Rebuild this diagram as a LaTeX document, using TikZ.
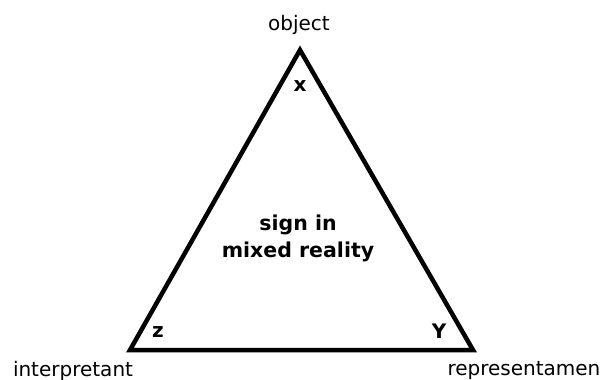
\documentclass[tikz,border=0pt]{standalone}
\usepackage{fontspec}
\setmainfont{DejaVu Sans}
\usepackage{tikz}
\usetikzlibrary{calc,positioning}

\tikzset{
    corner/.style={inner sep=0pt,anchor=base,font=\fontsize{20}{24}\selectfont},
    angle/.style={inner sep=0pt,anchor=base,font=\bfseries\fontsize{20}{22}\selectfont}
}

\begin{document}
\begin{tikzpicture}[x=1pt,y=-1pt,line join=miter]
    \useasboundingbox (0,0) rectangle (608,380);
    \coordinate (O) at (300,50);
    \coordinate (I) at (130,350);
    \coordinate (R) at (473,350);
    \draw [line width=4.5pt] (O) -- (I) -- (R) -- cycle;
    \node [corner] (object) at (299,30) {object};
    \node [corner] (interp) at (73,376) {interpretant};
    \node [corner] (repr) at (524,375) {representamen};
    \node [angle] (x) at (300,91) {x};
    \node [angle] (z) at (158,337) {z};
    \node [angle] (y) at (439,338) {Y};
    \node [font=\bfseries\fontsize{20.5}{27}\selectfont,align=center,inner sep=0pt] (sign) at (298,238) {sign in\\mixed reality};
\end{tikzpicture}
\end{document}
